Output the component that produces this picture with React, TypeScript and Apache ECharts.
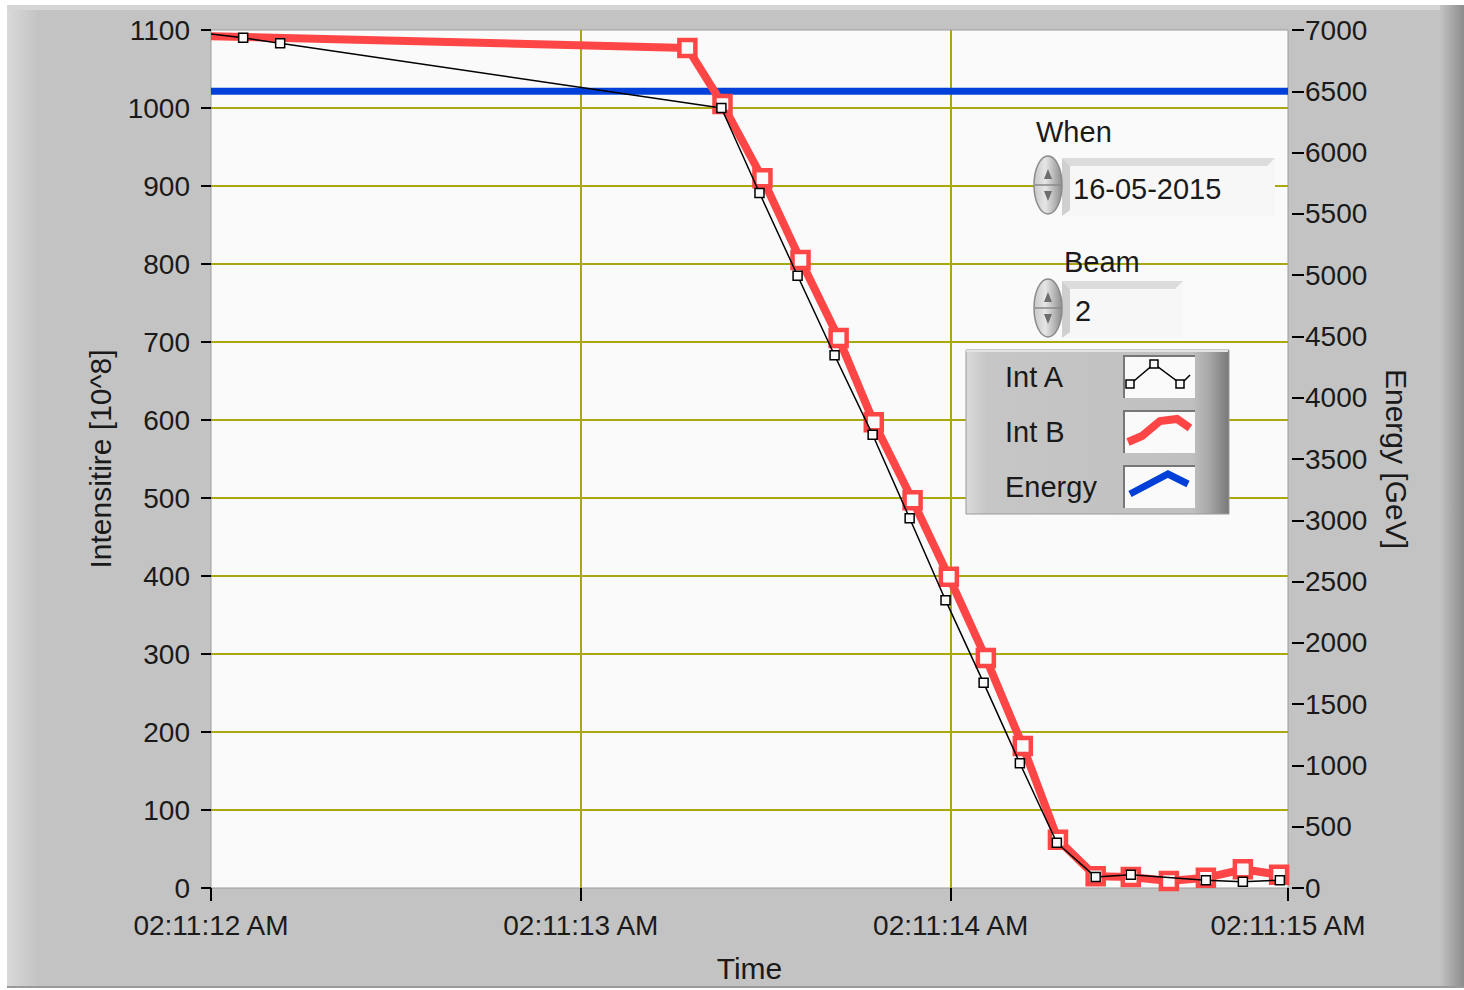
import React, { useEffect, useRef } from "react";
import * as echarts from "echarts";

// ---- data ----
const timeLabels = ["02:11:12 AM", "02:11:13 AM", "02:11:14 AM", "02:11:15 AM"];

// seconds after 02:11:12
const intATimes = [0, 0.087, 0.187, 1.38, 1.483, 1.586, 1.686, 1.789, 1.889, 1.986, 2.089, 2.187, 2.287, 2.392, 2.487, 2.69, 2.79, 2.89];
const intAValues = [1095, 1090, 1083, 1000, 891, 785, 683, 581, 474, 369, 263, 160, 58, 14, 17, 10, 8, 10];

const intBTimes = [0, 1.288, 1.383, 1.491, 1.594, 1.697, 1.792, 1.897, 1.995, 2.095, 2.195, 2.29, 2.392, 2.487, 2.59, 2.69, 2.79, 2.888];
const intBValues = [1092, 1077, 1005, 910, 805, 705, 597, 497, 399, 295, 182, 62, 15, 14, 9, 13, 24, 17];

const energyTimes = [0, 2.912];
const energyValues = [6500, 6500];

const legendNames = ["Int A", "Int B", "Energy"];
const whenValue = "16-05-2015";
const beamValue = "2";

const FONT = "'Liberation Sans', Arial, sans-serif";
const TXT = "#1a1a1a";
const OLIVE = "#aaa812";
const RED = "#ff4646";
const BLUE = "#0040d8";

// first point of each intensity trace is the edge of the window, drawn without a marker
function zip(t: number[], v: number[], hideFirst = false) {
  return t.map((x, i) => (hideFirst && i === 0 ? { value: [x, v[i]], symbol: "none" } : [x, v[i]]));
}

function spinner(cx: number, cy: number) {
  return [
    {
      type: "ellipse",
      shape: { cx, cy, rx: 14, ry: 29 },
      style: {
        fill: new echarts.graphic.LinearGradient(0, 0, 1, 0, [
          { offset: 0, color: "#c8c8c8" },
          { offset: 0.4, color: "#e6e6e6" },
          { offset: 1, color: "#8e8e8e" },
        ]),
        stroke: "#8a8a8a",
        lineWidth: 1.5,
      },
      z: 100,
    },
    { type: "line", shape: { x1: cx - 13, y1: cy, x2: cx + 13, y2: cy }, style: { stroke: "#8a8a8a", lineWidth: 1.5 }, z: 101 },
    { type: "polygon", shape: { points: [[cx, cy - 16], [cx - 4, cy - 6], [cx + 4, cy - 6]] }, style: { fill: "#6e6e6e" }, z: 101 },
    { type: "polygon", shape: { points: [[cx, cy + 16], [cx - 4, cy + 6], [cx + 4, cy + 6]] }, style: { fill: "#6e6e6e" }, z: 101 },
  ];
}

function field(x: number, y: number, w: number, h: number) {
  return [
    { type: "rect", shape: { x, y, width: w, height: h }, style: { fill: "#f7f7f7" }, z: 99 },
    {
      type: "polygon",
      shape: { points: [[x, y], [x + w, y], [x + w - 8, y + 8], [x + 8, y + 8]] },
      style: { fill: "#dcdcdc" },
      z: 99,
    },
    {
      type: "polygon",
      shape: { points: [[x, y], [x + 8, y + 8], [x + 8, y + h - 6], [x, y + h]] },
      style: { fill: "#cfcfcf" },
      z: 99,
    },
  ];
}

const plain = (v: number) => String(v);

export default function App() {
  const ref = useRef<HTMLDivElement>(null);
  useEffect(() => {
    if (!ref.current) return;
    const chart = echarts.init(ref.current, undefined, { renderer: "svg" });

    const legendX = 966;
    const legendY = 350;
    const rowY = [377, 432, 487];
    const swY = [355, 410, 465];

    const graphics: any[] = [
      // panel
      { type: "rect", shape: { x: 7, y: 5, width: 1457, height: 983 }, style: { fill: "#c3c3c3" }, z: -100 },
      {
        type: "rect",
        shape: { x: 7, y: 5, width: 32, height: 983 },
        style: {
          fill: new echarts.graphic.LinearGradient(0, 0, 1, 0, [
            { offset: 0, color: "#d9d9d9" },
            { offset: 1, color: "#c3c3c3" },
          ]),
        },
        z: -99,
      },
      { type: "rect", shape: { x: 7, y: 5, width: 1457, height: 5 }, style: { fill: "#d6d6d6" }, z: -99 },
      {
        type: "rect",
        shape: { x: 1440, y: 5, width: 24, height: 983 },
        style: {
          fill: new echarts.graphic.LinearGradient(0, 0, 1, 0, [
            { offset: 0, color: "#c3c3c3" },
            { offset: 1, color: "#8c8c8c" },
          ]),
        },
        z: -99,
      },
      { type: "line", shape: { x1: 7, y1: 987, x2: 1464, y2: 987 }, style: { stroke: "#9a9a9a", lineWidth: 2 }, z: -98 },

      // legend panel
      {
        type: "rect",
        shape: { x: legendX, y: legendY, width: 263, height: 164 },
        style: {
          fill: new echarts.graphic.LinearGradient(0, 0, 1, 0, [
            { offset: 0, color: "#dadada" },
            { offset: 0.08, color: "#c6c6c6" },
            { offset: 0.86, color: "#c0c0c0" },
            { offset: 0.92, color: "#aaaaaa" },
            { offset: 1, color: "#787878" },
          ]),
          stroke: "#9a9a9a",
          lineWidth: 1,
        },
        z: 100,
      },
      { type: "line", shape: { x1: legendX, y1: legendY + 1, x2: legendX + 262, y2: legendY + 1 }, style: { stroke: "#e2e2e2", lineWidth: 2 }, z: 101 },
      ...legendNames.map((n, i) => ({
        type: "text",
        style: { text: n, x: 1005, y: rowY[i], fontSize: 29, fontFamily: FONT, fill: TXT, verticalAlign: "middle", align: "left" },
        z: 102,
      })),
      ...swY.map((y) => ({ type: "rect", shape: { x: 1123, y, width: 72, height: 43 }, style: { fill: "#fafafa" }, z: 101 })),
      ...swY.map((y) => ({
        type: "polyline",
        shape: { points: [[1124, y + 43], [1124, y + 1], [1195, y + 1]] },
        style: { stroke: "#777", lineWidth: 2, fill: null },
        z: 102,
      })),
      // Int A sample
      {
        type: "polyline",
        shape: { points: [[1128, 386], [1154, 364], [1181, 384], [1190, 375]] },
        style: { stroke: "#000", lineWidth: 1.5, fill: null },
        z: 103,
      },
      ...[[1130, 384], [1154, 364], [1180, 384]].map((p) => ({
        type: "rect",
        shape: { x: p[0] - 4, y: p[1] - 4, width: 8, height: 8 },
        style: { stroke: "#000", lineWidth: 1.5, fill: "#fafafa" },
        z: 104,
      })),
      // Int B sample
      {
        type: "polyline",
        shape: { points: [[1128, 442], [1142, 436], [1160, 421], [1177, 419], [1190, 428]] },
        style: { stroke: RED, lineWidth: 8, fill: null },
        z: 103,
      },
      // Energy sample
      {
        type: "polyline",
        shape: { points: [[1130, 494], [1168, 474], [1188, 484]] },
        style: { stroke: BLUE, lineWidth: 7, fill: null },
        z: 103,
      },

      // controls
      { type: "text", style: { text: "When", x: 1036, y: 132, fontSize: 29, fontFamily: FONT, fill: TXT, verticalAlign: "middle" }, z: 102 },
      ...field(1062, 158, 213, 58),
      ...spinner(1048, 185),
      { type: "text", style: { text: whenValue, x: 1073, y: 189, fontSize: 29, fontFamily: FONT, fill: TXT, verticalAlign: "middle" }, z: 102 },
      { type: "text", style: { text: "Beam", x: 1064, y: 262, fontSize: 29, fontFamily: FONT, fill: TXT, verticalAlign: "middle" }, z: 102 },
      ...field(1062, 281, 121, 57),
      ...spinner(1048, 308),
      { type: "text", style: { text: beamValue, x: 1075, y: 311, fontSize: 29, fontFamily: FONT, fill: TXT, verticalAlign: "middle" }, z: 102 },
    ];

    chart.setOption({
      animation: false,
      backgroundColor: "#ffffff",
      textStyle: { fontFamily: FONT },
      grid: {
        left: 211,
        right: 176,
        top: 30,
        bottom: 102,
        show: true,
        backgroundColor: "#fafafa",
        borderColor: "#9c9c9c",
        borderWidth: 1,
      },
      xAxis: {
        type: "value",
        min: 0,
        max: 2.912,
        interval: 1,
        offset: 3,
        axisLine: { show: false },
        axisTick: { show: true, length: 13, lineStyle: { color: "#000", width: 2 } },
        axisLabel: {
          margin: 20,
          fontSize: 28,
          color: TXT,
          fontFamily: FONT,
          formatter: (v: number) => timeLabels[Math.round(v)] ?? "",
        },
        splitLine: { show: true, showMinLine: false, showMaxLine: false, lineStyle: { color: OLIVE, width: 2 } },
        name: "Time",
        nameLocation: "middle",
        nameGap: 62,
        nameTextStyle: { fontSize: 30, color: TXT, fontFamily: FONT },
      },
      yAxis: [
        {
          type: "value",
          position: "left",
          min: 0,
          max: 1100,
          interval: 100,
          offset: 5,
          axisLine: { show: false },
          axisTick: { show: true, length: 10, lineStyle: { color: "#000", width: 2 } },
          axisLabel: { margin: 16, fontSize: 28, color: TXT, fontFamily: FONT, formatter: plain },
          splitLine: { show: true, showMinLine: false, showMaxLine: false, lineStyle: { color: OLIVE, width: 2 } },
          name: "Intensitire [10^8]",
          nameLocation: "middle",
          nameRotate: 90,
          nameGap: 91,
          nameTextStyle: { fontSize: 30, color: TXT, fontFamily: FONT },
        },
        {
          type: "value",
          position: "right",
          min: 0,
          max: 7000,
          interval: 500,
          offset: 4,
          axisLine: { show: false },
          axisTick: { show: true, length: 12, lineStyle: { color: "#000", width: 2 } },
          axisLabel: { margin: 13, fontSize: 28, color: TXT, fontFamily: FONT, formatter: plain },
          splitLine: { show: false },
          name: "Energy [GeV]",
          nameLocation: "middle",
          nameRotate: -90,
          nameGap: 89,
          nameTextStyle: { fontSize: 30, color: TXT, fontFamily: FONT },
        },
      ],
      series: [
        {
          name: "Energy",
          type: "line",
          yAxisIndex: 1,
          data: zip(energyTimes, energyValues),
          showSymbol: false,
          lineStyle: { color: BLUE, width: 7 },
          itemStyle: { color: BLUE },
          z: 2,
        },
        {
          name: "Int B",
          type: "line",
          data: zip(intBTimes, intBValues, true),
          symbol: "rect",
          symbolSize: 16,
          showAllSymbol: true,
          lineStyle: { color: RED, width: 8 },
          itemStyle: { color: "#fafafa", borderColor: RED, borderWidth: 4.5 },
          z: 3,
        },
        {
          name: "Int A",
          type: "line",
          data: zip(intATimes, intAValues, true),
          symbol: "rect",
          symbolSize: 9,
          showAllSymbol: true,
          lineStyle: { color: "#000", width: 1.5 },
          itemStyle: { color: "#fafafa", borderColor: "#000", borderWidth: 1.5 },
          z: 4,
        },
      ],
      graphic: { elements: graphics },
    });
    return () => chart.dispose();
  }, []);
  return <div ref={ref} style={{ position: "fixed", left: 0, top: 0, width: 1464, height: 990 }} />;
}
